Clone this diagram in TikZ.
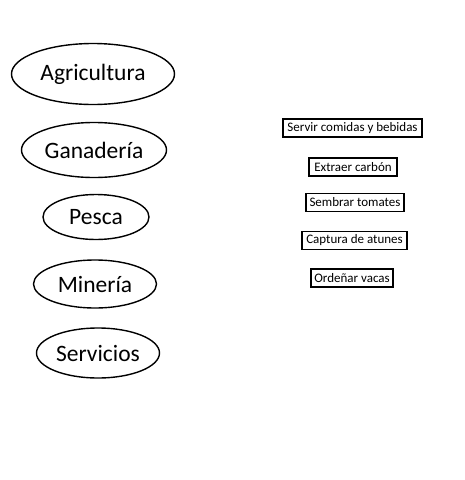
\documentclass[tikz,border=0pt]{standalone}
\usepackage{fontspec}
\setmainfont{Carlito}
\usetikzlibrary{shapes.geometric}
\tikzset{
  sector/.style={draw=black, line width=1.4pt, ellipse, inner sep=0pt, font=\fontsize{23.5}{27}\selectfont},
  task/.style={draw=black, line width=1.3pt, rectangle, inner sep=0pt, minimum height=18pt, font=\fontsize{13}{15}\selectfont}
}
\begin{document}
\begin{tikzpicture}[x=1pt,y=-1pt]
\useasboundingbox[fill=white] (0,0) rectangle (464,480);
\node[sector, minimum width=163pt, minimum height=61pt] (agri) at (93,74) {Agricultura};
\node[sector, minimum width=145pt, minimum height=55pt] (gana) at (94,150) {Ganadería};
\node[sector, minimum width=106pt, minimum height=45pt] (pesca) at (96,217) {Pesca};
\node[sector, minimum width=123pt, minimum height=48pt] (mine) at (95,284) {Minería};
\node[sector, minimum width=123pt, minimum height=50pt] (serv) at (98,353) {Servicios};
\node[task, minimum width=139pt] (t1) at (352.5,128) {Servir comidas y bebidas};
\node[task, minimum width=88pt] (t2) at (353,167) {Extraer carbón};
\node[task, minimum width=98pt] (t3) at (355,202.5) {Sembrar tomates};
\node[task, minimum width=105pt] (t4) at (354.5,240.5) {Captura de atunes};
\node[task, minimum width=82pt] (t5) at (352,278) {Ordeñar vacas};
\end{tikzpicture}
\end{document}
